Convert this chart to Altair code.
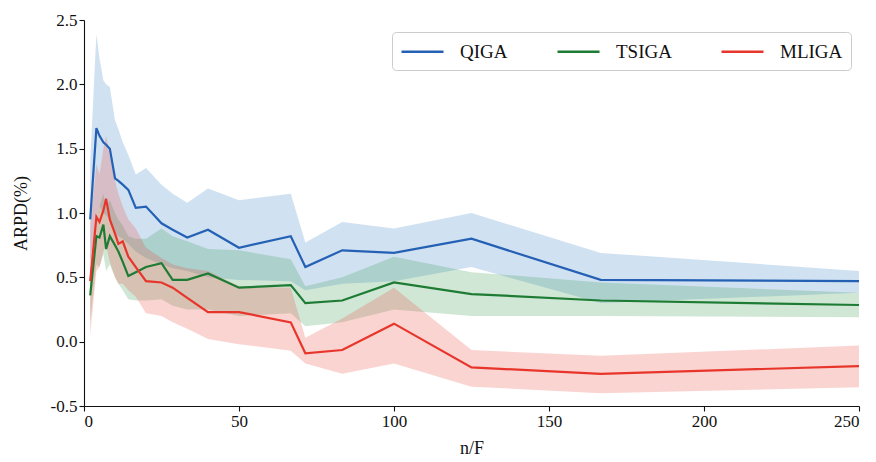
import altair as alt
import pandas as pd

x_vals = [2, 4, 5, 6.25, 7.14, 8.33, 10, 11.1, 12.5, 14.3, 16.7, 20, 25, 28.6, 33.3, 40, 50, 66.7, 71.4, 83.3, 100, 125, 166.7, 250]

series_names = ["QIGA", "TSIGA", "MLIGA"]
series_colors = ["#2460b4", "#1e7b34", "#e8352b"]
band_colors = ["#3b80c6", "#3a9a55", "#ec4a3f"]

qiga_mean = [0.95, 1.66, 1.60, 1.55, 1.53, 1.50, 1.27, 1.25, 1.22, 1.18, 1.04, 1.05, 0.92, 0.87, 0.81, 0.87, 0.73, 0.82, 0.58, 0.71, 0.69, 0.80, 0.48, 0.47]
qiga_hi = [1.40, 2.39, 2.20, 2.03, 2.00, 1.98, 1.72, 1.65, 1.55, 1.45, 1.30, 1.35, 1.22, 1.15, 1.08, 1.19, 1.10, 1.15, 0.77, 0.93, 0.88, 1.00, 0.69, 0.55]
qiga_lo = [0.60, 1.00, 1.05, 1.00, 0.98, 0.95, 0.85, 0.82, 0.80, 0.76, 0.70, 0.65, 0.60, 0.57, 0.55, 0.50, 0.48, 0.47, 0.40, 0.45, 0.47, 0.58, 0.30, 0.38]

tsiga_mean = [0.36, 0.82, 0.81, 0.91, 0.72, 0.82, 0.75, 0.70, 0.62, 0.51, 0.54, 0.58, 0.61, 0.48, 0.48, 0.53, 0.42, 0.44, 0.30, 0.32, 0.46, 0.37, 0.32, 0.285]
tsiga_hi = [0.55, 1.00, 1.05, 1.15, 1.05, 1.10, 1.00, 0.95, 0.90, 0.82, 0.80, 0.80, 0.88, 0.82, 0.78, 0.72, 0.71, 0.64, 0.43, 0.50, 0.66, 0.54, 0.46, 0.38]
tsiga_lo = [0.15, 0.60, 0.58, 0.68, 0.55, 0.60, 0.50, 0.45, 0.40, 0.33, 0.32, 0.32, 0.33, 0.28, 0.25, 0.25, 0.20, 0.22, 0.12, 0.15, 0.25, 0.20, 0.20, 0.19]

mliga_mean = [0.47, 0.97, 0.93, 1.02, 1.11, 0.95, 0.84, 0.76, 0.78, 0.66, 0.58, 0.47, 0.46, 0.42, 0.34, 0.23, 0.23, 0.15, -0.09, -0.065, 0.14, -0.20, -0.25, -0.19]
mliga_hi = [0.90, 1.38, 1.30, 1.50, 1.60, 1.45, 1.25, 1.15, 1.05, 0.95, 0.88, 0.73, 0.65, 0.60, 0.57, 0.55, 0.43, 0.42, 0.03, 0.18, 0.42, -0.065, -0.11, -0.03]
mliga_lo = [0.05, 0.55, 0.58, 0.70, 0.75, 0.62, 0.50, 0.45, 0.45, 0.40, 0.35, 0.22, 0.20, 0.15, 0.10, 0.02, -0.02, -0.07, -0.17, -0.25, -0.17, -0.35, -0.40, -0.355]

y_ticks = [-0.5, 0.0, 0.5, 1.0, 1.5, 2.0, 2.5]
x_ticks = [0, 50, 100, 150, 200, 250]

rows = []
for name, m, hi, lo in [("QIGA", qiga_mean, qiga_hi, qiga_lo),
                        ("TSIGA", tsiga_mean, tsiga_hi, tsiga_lo),
                        ("MLIGA", mliga_mean, mliga_hi, mliga_lo)]:
    for i, xv in enumerate(x_vals):
        rows.append({"x": xv, "series": name, "mean": m[i], "hi": hi[i], "lo": lo[i]})
df = pd.DataFrame(rows)

FONT = "Liberation Serif"

xenc = alt.X("x:Q", scale=alt.Scale(domain=[0, 250], nice=False, zero=False),
             axis=alt.Axis(values=x_ticks, title="n/F", grid=False, format="d"))
yscale = alt.Scale(domain=[-0.5, 2.5], nice=False, zero=False)

base = alt.Chart(df)

band_layers = []
for name, col in zip(series_names, band_colors):
    band_layers.append(
        base.transform_filter(alt.datum.series == name).mark_area(
            opacity=0.24, interpolate="linear", color=col).encode(
            x=xenc,
            y=alt.Y("lo:Q", scale=yscale),
            y2="hi:Q",
        )
    )

lines = base.mark_line(strokeWidth=2.2).encode(
    x=xenc,
    y=alt.Y("mean:Q", scale=yscale,
            axis=alt.Axis(values=y_ticks, title="ARPD(%)", grid=False,
                          labelExpr="replace(format(datum.value, '.1f'), '\u2212', '-')")),
    color=alt.Color("series:N", scale=alt.Scale(domain=series_names, range=series_colors),
                    legend=alt.Legend(title=None, orient="none", legendX=308, legendY=12,
                                      direction="horizontal", symbolType="M-1,0L3.2,0",
                                      labelFont=FONT, labelFontSize=19)),
)

chart = alt.layer(*band_layers, lines).properties(
    width=775, height=386,
    autosize=alt.AutoSizeParams(type="none"),
    padding={"left": 84, "top": 20, "right": 17, "bottom": 56},
).configure_view(stroke=None).configure_axis(
    labelFont=FONT, titleFont=FONT, labelFontSize=17, titleFontSize=18,
    labelColor="#111", titleColor="#111", titleFontWeight="normal",
    domainColor="#111", tickColor="#111", tickSize=5, domainWidth=1.1, tickWidth=1.1,
).configure_axisY(titlePadding=20).configure_axisX(titlePadding=10).configure_legend(
    symbolSize=400, symbolStrokeWidth=2.5, labelFontSize=19, labelFont=FONT,
    labelColor="#111", labelOffset=37, columnPadding=44, strokeColor="#cccccc",
    padding=8, cornerRadius=4, fillColor="white")

chart.save("out.html", embed_options={"renderer": "svg", "actions": False})
